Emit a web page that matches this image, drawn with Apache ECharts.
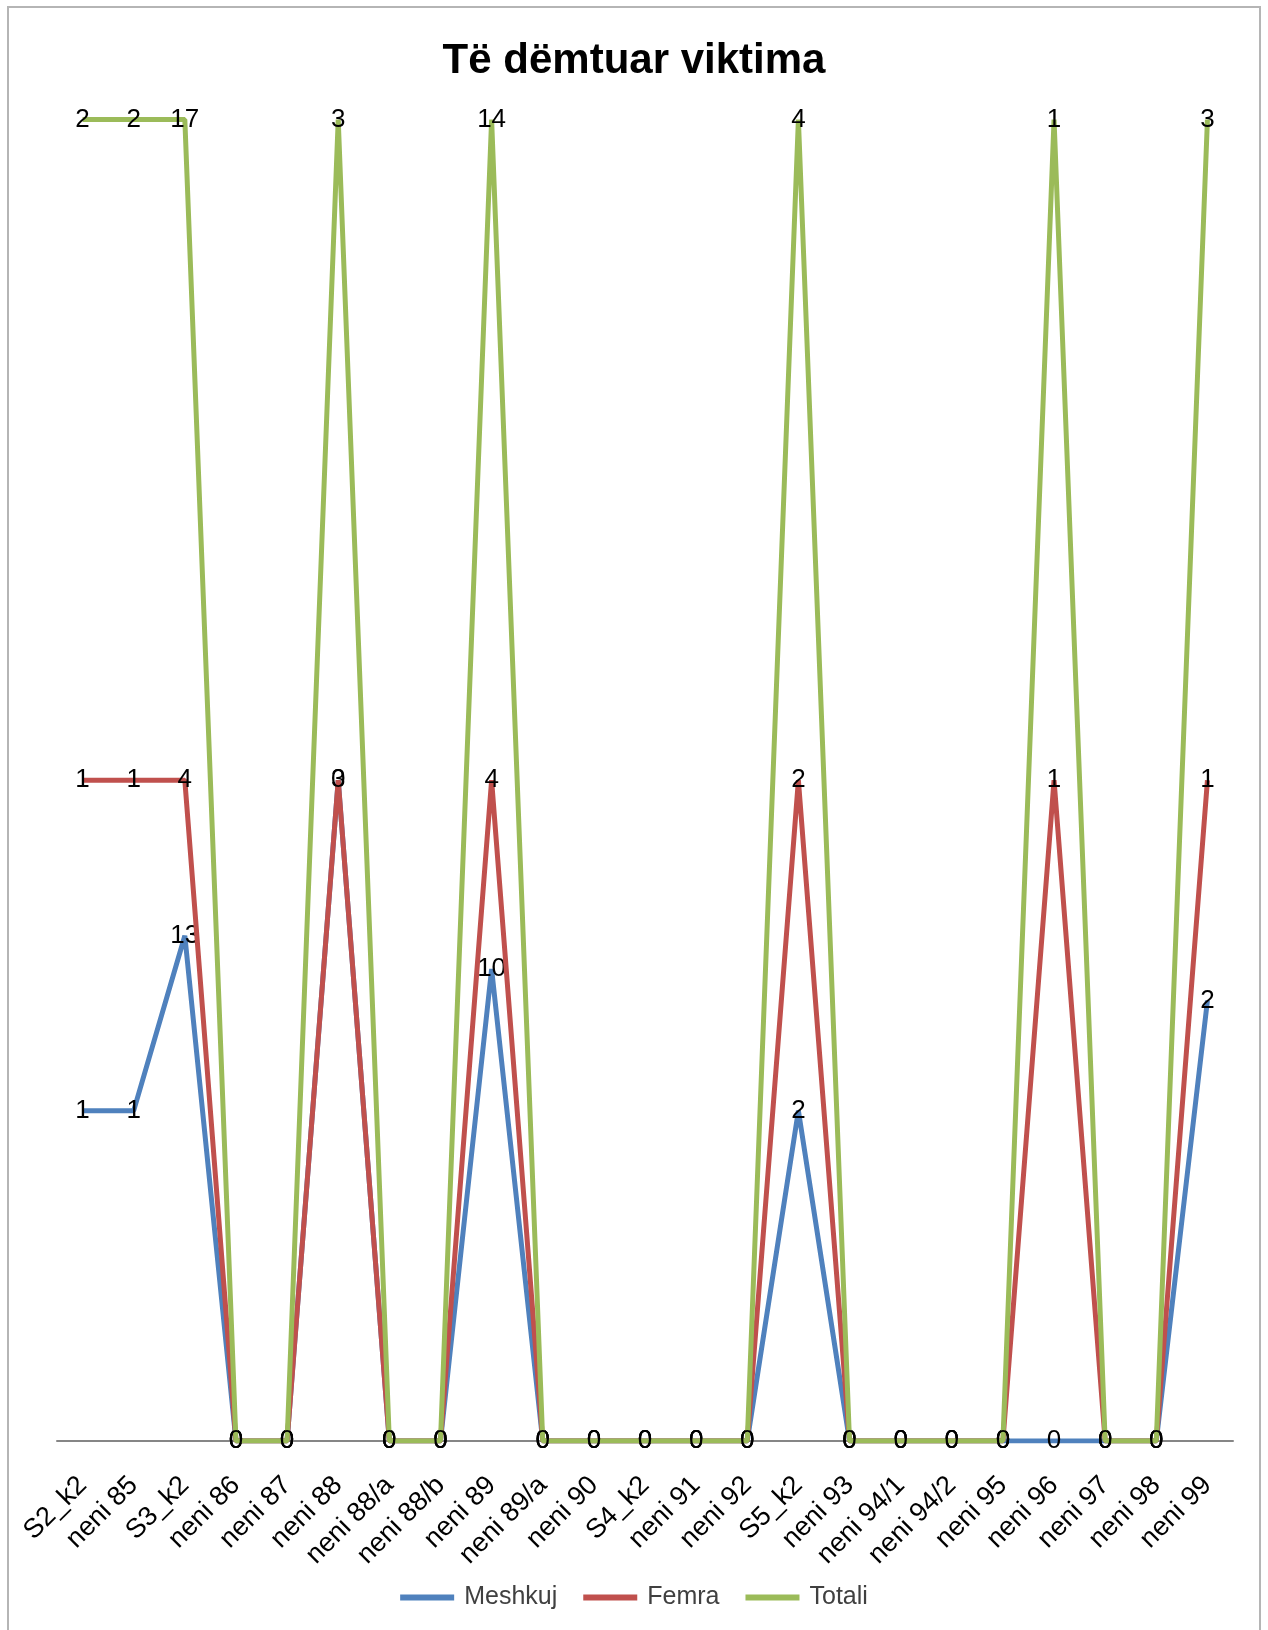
<!DOCTYPE html>
<html>
<head>
<meta charset="utf-8">
<script src="https://cdn.jsdelivr.net/npm/echarts@6/dist/echarts.min.js"></script>
<style>
html,body{margin:0;padding:0;background:#fff;}
#chart{width:1268px;height:1630px;}
</style>
</head>
<body>
<div id="chart"></div>
<script>
var categories = ['S2_k2','neni 85','S3_k2','neni 86','neni 87','neni 88','neni 88/a','neni 88/b','neni 89','neni 89/a','neni 90','S4_k2','neni 91','neni 92','S5_k2','neni 93','neni 94/1','neni 94/2','neni 95','neni 96','neni 97','neni 98','neni 99'];
var meshkuj = [1,1,13,0,0,3,0,0,10,0,0,0,0,0,2,0,0,0,0,0,0,0,2];
var femra   = [1,1,4,0,0,0,0,0,4,0,0,0,0,0,2,0,0,0,0,1,0,0,1];
var totali  = [2,2,17,0,0,3,0,0,14,0,0,0,0,0,4,0,0,0,0,1,0,0,3];
var seriesNames = ['Meshkuj','Femra','Totali'];
var seriesColors = ['#4F81BD','#C0504D','#9BBB59'];

var raw = [meshkuj, femra, totali];
var sums = categories.map(function(c,i){ return meshkuj[i]+femra[i]+totali[i]; });
function share(arr){ return arr.map(function(v,i){ return sums[i] ? v/sums[i] : 0; }); }

var FONT = '"Liberation Sans", Arial, sans-serif';
var chart = echarts.init(document.getElementById('chart'));
var series = raw.map(function(arr, k){
  return {
    name: seriesNames[k],
    type: 'line',
    stack: 'pct',
    data: share(arr),
    symbol: 'circle',
    symbolSize: 0,
    showSymbol: true,
    lineStyle: {width: 5, color: seriesColors[k]},
    itemStyle: {color: seriesColors[k]},
    label: {
      show: true,
      position: 'inside',
      color: '#000',
      fontFamily: FONT,
      fontSize: 26,
      formatter: function(p){ return String(arr[p.dataIndex]); }
    },
    labelLayout: {hideOverlap: false},
    z: 2 + k
  };
});

chart.setOption({
  animation: false,
  backgroundColor: '#fff',
  title: {
    text: 'Të dëmtuar viktima',
    left: 'center',
    top: 35,
    textStyle: {fontFamily: FONT, fontWeight: 'bold', fontSize: 42, color: '#000'}
  },
  legend: {
    data: seriesNames,
    bottom: 15,
    left: 'center',
    itemWidth: 54,
    itemHeight: 6,
    itemGap: 26,
    icon: 'rect',
    textStyle: {fontFamily: FONT, fontSize: 25, color: '#404040', padding: [0,0,0,5]}
  },
  grid: {left: 57, right: 35, top: 119.5, bottom: 189, containLabel: false},
  xAxis: {
    type: 'category',
    data: categories,
    boundaryGap: true,
    axisLine: {lineStyle: {color: '#868686', width: 2}},
    axisTick: {show: false},
    axisLabel: {rotate: 45, interval: 0, margin: 40, fontFamily: FONT, fontSize: 27, color: '#000'}
  },
  yAxis: {
    type: 'value',
    min: 0,
    max: 1,
    show: false,
    splitLine: {show: false}
  },
  graphic: [{
    type: 'rect',
    shape: {x: 8, y: 7, width: 1252, height: 1650},
    style: {fill: 'none', stroke: '#b5b5b5', lineWidth: 2},
    silent: true,
    z: -1
  }],
  series: series
});
</script>
</body>
</html>
